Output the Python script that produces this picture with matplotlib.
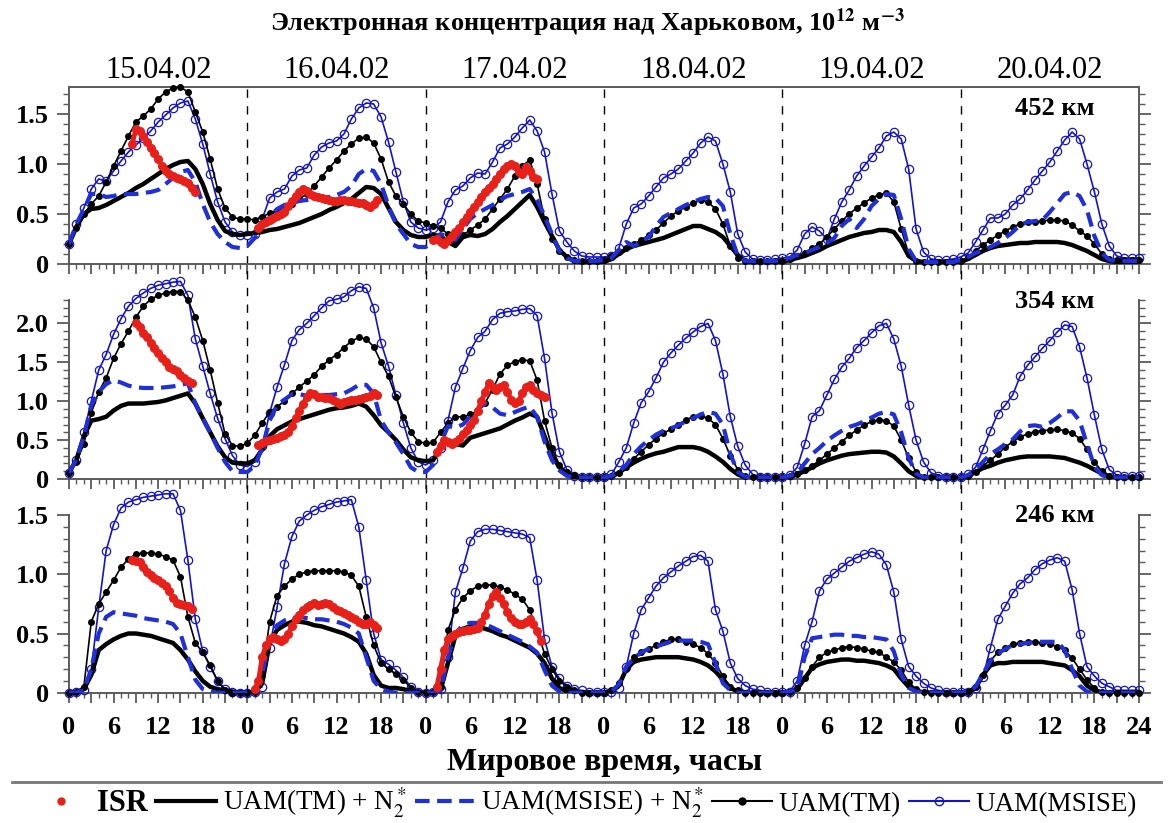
import numpy as np
import matplotlib.pyplot as plt
from matplotlib.lines import Line2D
from matplotlib.ticker import FixedLocator, FuncFormatter

plt.rcParams['font.family'] = ['Liberation Serif', 'DejaVu Serif']
plt.rcParams['mathtext.fontset'] = 'stix'

# ---- данные: часы от 0 (15.04) до 144 (конец 20.04), шаг 1 ч ----
hours = np.arange(145)
days = ['15.04.02', '16.04.02', '17.04.02', '18.04.02', '19.04.02', '20.04.02']

# 452 км
tm_452 = [0.20, 0.36, 0.50, 0.60, 0.68, 0.82, 0.98, 1.13, 1.28, 1.42, 1.48, 1.55, 1.65, 1.72, 1.76, 1.77, 1.72, 1.52, 1.32, 1.05, 0.75, 0.56, 0.47, 0.45,
          0.45, 0.44, 0.47, 0.51, 0.53, 0.57, 0.60, 0.65, 0.70, 0.78, 0.87, 0.96, 1.04, 1.13, 1.20, 1.26, 1.27, 1.21, 1.05, 0.82, 0.68, 0.60, 0.50, 0.43,
          0.41, 0.38, 0.36, 0.30, 0.24, 0.29, 0.34, 0.39, 0.45, 0.55, 0.65, 0.75, 0.88, 0.98, 1.04, 0.80, 0.45, 0.25, 0.13, 0.07, 0.04, 0.03, 0.03, 0.03,
          0.04, 0.08, 0.12, 0.16, 0.20, 0.24, 0.29, 0.34, 0.41, 0.48, 0.53, 0.57, 0.61, 0.64, 0.62, 0.55, 0.40, 0.18, 0.06, 0.03, 0.03, 0.03, 0.03, 0.03,
          0.03, 0.05, 0.08, 0.11, 0.16, 0.20, 0.27, 0.35, 0.43, 0.50, 0.56, 0.61, 0.66, 0.69, 0.71, 0.62, 0.35, 0.10, 0.03, 0.02, 0.02, 0.02, 0.02, 0.02,
          0.03, 0.07, 0.13, 0.19, 0.24, 0.29, 0.33, 0.37, 0.40, 0.42, 0.42, 0.43, 0.44, 0.44, 0.43, 0.39, 0.33, 0.28, 0.20, 0.10, 0.05, 0.04, 0.04, 0.04,
          0.04]
msise_452 = [0.20, 0.40, 0.56, 0.75, 0.85, 0.83, 0.93, 1.03, 1.12, 1.19, 1.26, 1.33, 1.42, 1.49, 1.56, 1.61, 1.63, 1.45, 1.20, 0.90, 0.62, 0.42, 0.32, 0.29,
             0.29, 0.30, 0.45, 0.66, 0.72, 0.75, 0.88, 0.94, 0.96, 1.09, 1.17, 1.21, 1.23, 1.30, 1.45, 1.56, 1.61, 1.60, 1.47, 1.22, 0.92, 0.62, 0.42, 0.36,
             0.34, 0.36, 0.42, 0.62, 0.74, 0.78, 0.86, 0.91, 0.90, 1.02, 1.16, 1.20, 1.27, 1.36, 1.44, 1.33, 1.12, 0.70, 0.33, 0.22, 0.13, 0.08, 0.07, 0.07,
             0.07, 0.08, 0.16, 0.40, 0.56, 0.60, 0.68, 0.77, 0.86, 0.90, 0.95, 1.03, 1.11, 1.21, 1.27, 1.23, 1.00, 0.72, 0.30, 0.12, 0.05, 0.04, 0.04, 0.05,
             0.06, 0.07, 0.14, 0.30, 0.37, 0.33, 0.25, 0.45, 0.62, 0.74, 0.88, 0.98, 1.07, 1.16, 1.28, 1.32, 1.25, 0.95, 0.35, 0.12, 0.05, 0.04, 0.04, 0.05,
             0.07, 0.11, 0.22, 0.34, 0.46, 0.46, 0.50, 0.59, 0.65, 0.74, 0.84, 0.93, 1.02, 1.13, 1.24, 1.32, 1.25, 1.00, 0.72, 0.40, 0.18, 0.08, 0.06, 0.06,
             0.06]
tmn2_452 = [0.20, 0.37, 0.50, 0.55, 0.56, 0.59, 0.63, 0.67, 0.71, 0.76, 0.80, 0.85, 0.90, 0.95, 0.99, 1.02, 1.03, 0.95, 0.80, 0.60, 0.44, 0.33, 0.30, 0.29,
            0.30, 0.31, 0.32, 0.34, 0.35, 0.37, 0.39, 0.41, 0.44, 0.47, 0.50, 0.54, 0.57, 0.61, 0.65, 0.71, 0.77, 0.76, 0.70, 0.56, 0.42, 0.34, 0.29, 0.27,
            0.27, 0.29, 0.28, 0.22, 0.18, 0.27, 0.29, 0.28, 0.30, 0.35, 0.42, 0.48, 0.55, 0.62, 0.69, 0.57, 0.42, 0.28, 0.14, 0.07, 0.03, 0.02, 0.02, 0.02,
            0.02, 0.05, 0.10, 0.15, 0.18, 0.20, 0.22, 0.24, 0.26, 0.29, 0.32, 0.35, 0.38, 0.38, 0.35, 0.32, 0.27, 0.18, 0.09, 0.03, 0.02, 0.02, 0.02, 0.02,
            0.02, 0.04, 0.06, 0.08, 0.11, 0.14, 0.18, 0.21, 0.24, 0.27, 0.29, 0.31, 0.32, 0.34, 0.34, 0.32, 0.22, 0.08, 0.03, 0.02, 0.02, 0.02, 0.02, 0.02,
            0.02, 0.05, 0.09, 0.13, 0.16, 0.18, 0.19, 0.20, 0.21, 0.21, 0.22, 0.22, 0.22, 0.22, 0.21, 0.19, 0.16, 0.13, 0.09, 0.05, 0.03, 0.02, 0.02, 0.02,
            0.02]
msisen2_452 = [0.20, 0.40, 0.55, 0.70, 0.70, 0.67, 0.68, 0.70, 0.70, 0.70, 0.71, 0.72, 0.74, 0.80, 0.86, 0.92, 0.94, 0.82, 0.60, 0.42, 0.30, 0.22, 0.17, 0.16,
               0.18, 0.26, 0.36, 0.47, 0.55, 0.59, 0.61, 0.63, 0.64, 0.65, 0.66, 0.67, 0.69, 0.72, 0.78, 0.90, 0.95, 0.93, 0.80, 0.58, 0.40, 0.30, 0.20, 0.17,
               0.17, 0.22, 0.30, 0.27, 0.24, 0.35, 0.45, 0.51, 0.55, 0.59, 0.64, 0.68, 0.70, 0.72, 0.75, 0.64, 0.48, 0.30, 0.13, 0.06, 0.03, 0.03, 0.03, 0.03,
               0.04, 0.06, 0.14, 0.22, 0.18, 0.22, 0.27, 0.38, 0.47, 0.51, 0.55, 0.59, 0.62, 0.65, 0.67, 0.66, 0.58, 0.30, 0.08, 0.03, 0.03, 0.03, 0.03, 0.03,
               0.04, 0.06, 0.09, 0.11, 0.14, 0.17, 0.21, 0.26, 0.38, 0.45, 0.36, 0.45, 0.58, 0.65, 0.70, 0.69, 0.45, 0.15, 0.03, 0.02, 0.02, 0.02, 0.02, 0.02,
               0.04, 0.07, 0.11, 0.14, 0.17, 0.21, 0.26, 0.32, 0.39, 0.42, 0.43, 0.44, 0.52, 0.61, 0.70, 0.72, 0.68, 0.54, 0.28, 0.11, 0.04, 0.03, 0.03, 0.03,
               0.03]
# ISR: (час начала, значения через 0.5 ч)
isr_452 = [(8.5, [1.20, 1.35, 1.33, 1.28, 1.22, 1.16, 1.11, 1.05, 0.98, 0.93, 0.90, 0.88, 0.86, 0.85, 0.83, 0.81, 0.76, 0.72]),
           (25.5, [0.36, 0.40, 0.42, 0.44, 0.46, 0.48, 0.50, 0.52, 0.58, 0.63, 0.68, 0.72, 0.75, 0.73, 0.70, 0.68, 0.67,
                   0.66, 0.65, 0.64, 0.63, 0.63, 0.64, 0.64, 0.63, 0.63, 0.62, 0.61, 0.61, 0.59, 0.57, 0.60, 0.64]),
           (49.0, [0.24, 0.25, 0.22, 0.20, 0.24, 0.28, 0.32, 0.36, 0.42, 0.47, 0.52, 0.57, 0.62, 0.67, 0.72, 0.76, 0.80,
                   0.85, 0.90, 0.95, 0.98, 1.00, 0.98, 0.92, 0.90, 0.97, 0.93, 0.87, 0.85])]

# 354 км
tm_354 = [0.08, 0.22, 0.45, 0.85, 1.12, 1.30, 1.55, 1.74, 1.90, 2.08, 2.22, 2.31, 2.36, 2.39, 2.41, 2.41, 2.30, 2.08, 1.78, 1.40, 0.98, 0.58, 0.43, 0.42,
          0.46, 0.56, 0.72, 0.86, 0.93, 1.00, 1.10, 1.18, 1.26, 1.34, 1.45, 1.53, 1.60, 1.69, 1.77, 1.82, 1.80, 1.70, 1.50, 1.32, 1.05, 0.80, 0.60, 0.48,
          0.46, 0.47, 0.60, 0.72, 0.80, 0.80, 0.83, 0.88, 0.98, 1.15, 1.35, 1.46, 1.51, 1.53, 1.52, 1.27, 0.75, 0.40, 0.18, 0.09, 0.05, 0.03, 0.02, 0.02,
          0.02, 0.04, 0.08, 0.16, 0.26, 0.35, 0.44, 0.52, 0.59, 0.64, 0.70, 0.76, 0.80, 0.81, 0.78, 0.70, 0.52, 0.30, 0.12, 0.04, 0.02, 0.02, 0.02, 0.02,
          0.02, 0.04, 0.07, 0.11, 0.17, 0.24, 0.32, 0.40, 0.48, 0.56, 0.63, 0.69, 0.74, 0.76, 0.75, 0.68, 0.50, 0.27, 0.09, 0.03, 0.02, 0.02, 0.02, 0.02,
          0.02, 0.04, 0.09, 0.17, 0.24, 0.32, 0.41, 0.48, 0.54, 0.58, 0.61, 0.62, 0.63, 0.64, 0.62, 0.59, 0.52, 0.38, 0.22, 0.10, 0.04, 0.02, 0.02, 0.02,
          0.02]
msise_354 = [0.08, 0.25, 0.60, 1.00, 1.40, 1.60, 1.86, 2.06, 2.22, 2.32, 2.39, 2.45, 2.49, 2.51, 2.53, 2.54, 2.36, 1.80, 1.45, 1.10, 0.78, 0.52, 0.30, 0.18,
             0.16, 0.22, 0.42, 0.85, 1.18, 1.47, 1.78, 1.92, 2.00, 2.10, 2.20, 2.29, 2.31, 2.34, 2.42, 2.47, 2.45, 2.20, 1.75, 1.45, 1.08, 0.72, 0.40, 0.22,
             0.18, 0.24, 0.40, 0.75, 1.18, 1.42, 1.65, 1.82, 1.90, 2.05, 2.13, 2.15, 2.16, 2.18, 2.19, 2.10, 1.55, 0.85, 0.35, 0.12, 0.04, 0.02, 0.02, 0.03,
             0.03, 0.06, 0.22, 0.40, 0.72, 0.98, 1.12, 1.30, 1.50, 1.62, 1.72, 1.81, 1.89, 1.96, 2.00, 1.78, 1.35, 0.80, 0.42, 0.18, 0.06, 0.03, 0.03, 0.03,
             0.03, 0.05, 0.15, 0.45, 0.80, 0.88, 1.08, 1.28, 1.44, 1.55, 1.69, 1.78, 1.88, 1.97, 2.00, 1.80, 1.45, 0.95, 0.50, 0.22, 0.08, 0.04, 0.03, 0.03,
             0.03, 0.06, 0.15, 0.38, 0.62, 0.84, 0.95, 1.08, 1.32, 1.46, 1.57, 1.68, 1.78, 1.89, 1.98, 1.96, 1.70, 1.30, 0.82, 0.38, 0.12, 0.05, 0.04, 0.04,
             0.04]
tmn2_354 = [0.08, 0.25, 0.55, 0.75, 0.77, 0.80, 0.88, 0.94, 0.97, 0.97, 0.97, 0.98, 0.99, 1.01, 1.04, 1.07, 1.10, 0.97, 0.78, 0.60, 0.42, 0.28, 0.21, 0.20,
            0.20, 0.24, 0.38, 0.55, 0.64, 0.69, 0.74, 0.77, 0.80, 0.83, 0.86, 0.89, 0.91, 0.92, 0.94, 0.97, 0.93, 0.82, 0.69, 0.60, 0.50, 0.38, 0.28, 0.24,
            0.23, 0.24, 0.40, 0.50, 0.45, 0.43, 0.53, 0.56, 0.59, 0.62, 0.65, 0.70, 0.75, 0.79, 0.84, 0.80, 0.55, 0.30, 0.15, 0.06, 0.02, 0.01, 0.01, 0.01,
            0.01, 0.03, 0.08, 0.15, 0.21, 0.26, 0.30, 0.33, 0.35, 0.38, 0.41, 0.41, 0.41, 0.39, 0.35, 0.29, 0.22, 0.13, 0.06, 0.02, 0.01, 0.01, 0.01, 0.01,
            0.01, 0.03, 0.06, 0.10, 0.15, 0.20, 0.24, 0.27, 0.30, 0.32, 0.33, 0.34, 0.35, 0.35, 0.34, 0.29, 0.20, 0.10, 0.04, 0.01, 0.01, 0.01, 0.01, 0.01,
            0.01, 0.04, 0.09, 0.14, 0.17, 0.21, 0.24, 0.26, 0.28, 0.29, 0.29, 0.29, 0.29, 0.28, 0.27, 0.24, 0.21, 0.17, 0.12, 0.07, 0.03, 0.01, 0.01, 0.01,
            0.01]
msisen2_354 = [0.08, 0.25, 0.55, 0.95, 1.12, 1.22, 1.27, 1.24, 1.20, 1.18, 1.17, 1.17, 1.17, 1.18, 1.19, 1.21, 1.23, 0.97, 0.78, 0.60, 0.40, 0.22, 0.10, 0.09,
               0.09, 0.17, 0.40, 0.75, 0.95, 1.02, 1.09, 1.09, 1.07, 1.07, 1.08, 1.08, 1.09, 1.10, 1.15, 1.21, 1.21, 1.10, 0.75, 0.60, 0.47, 0.32, 0.15, 0.09,
               0.09, 0.18, 0.45, 0.68, 0.66, 0.70, 0.80, 0.90, 0.97, 0.92, 0.84, 0.82, 0.86, 0.90, 0.93, 0.80, 0.48, 0.24, 0.11, 0.04, 0.02, 0.02, 0.02, 0.02,
               0.02, 0.04, 0.09, 0.18, 0.32, 0.42, 0.50, 0.57, 0.62, 0.65, 0.69, 0.74, 0.78, 0.83, 0.86, 0.84, 0.70, 0.32, 0.09, 0.03, 0.02, 0.02, 0.02, 0.02,
               0.02, 0.04, 0.08, 0.20, 0.32, 0.40, 0.49, 0.56, 0.62, 0.67, 0.70, 0.74, 0.79, 0.84, 0.86, 0.83, 0.60, 0.27, 0.07, 0.02, 0.02, 0.02, 0.02, 0.02,
               0.02, 0.05, 0.12, 0.22, 0.32, 0.38, 0.45, 0.51, 0.61, 0.68, 0.69, 0.67, 0.72, 0.79, 0.87, 0.87, 0.75, 0.45, 0.16, 0.05, 0.02, 0.02, 0.02, 0.02,
               0.02]
isr_354 = [(9.0, [2.00, 1.95, 1.88, 1.83, 1.75, 1.68, 1.62, 1.56, 1.50, 1.44, 1.41, 1.39, 1.34, 1.30, 1.26, 1.23]),
           (25.5, [0.44, 0.46, 0.49, 0.50, 0.52, 0.53, 0.55, 0.57, 0.60, 0.68, 0.78, 0.88, 0.97, 1.05, 1.10, 1.09, 1.06,
                   1.05, 1.04, 1.04, 1.02, 0.99, 0.97, 0.99, 1.00, 1.01, 1.02, 1.03, 1.04, 1.05, 1.07, 1.10, 1.08]),
           (49.5, [0.35, 0.42, 0.50, 0.47, 0.45, 0.47, 0.52, 0.58, 0.63, 0.70, 0.76, 0.88, 1.00, 1.12, 1.23, 1.18, 1.14,
                   1.18, 1.21, 1.12, 1.02, 0.98, 1.00, 1.10, 1.18, 1.21, 1.14, 1.10, 1.08, 1.06])]

# 246 км
tm_246 = [0.00, 0.01, 0.05, 0.60, 0.75, 0.85, 0.95, 1.06, 1.13, 1.17, 1.18, 1.18, 1.17, 1.15, 1.12, 0.98, 0.64, 0.42, 0.34, 0.23, 0.10, 0.02, 0.00, 0.00,
          0.00, 0.01, 0.15, 0.60, 0.82, 0.90, 0.96, 1.00, 1.02, 1.03, 1.03, 1.03, 1.03, 1.02, 0.99, 0.90, 0.64, 0.40, 0.25, 0.20, 0.16, 0.11, 0.04, 0.01,
          0.00, 0.01, 0.05, 0.53, 0.70, 0.80, 0.86, 0.90, 0.91, 0.91, 0.89, 0.87, 0.83, 0.79, 0.70, 0.52, 0.33, 0.20, 0.10, 0.05, 0.02, 0.00, 0.00, 0.00,
          0.00, 0.02, 0.08, 0.20, 0.30, 0.34, 0.37, 0.40, 0.43, 0.45, 0.45, 0.43, 0.41, 0.38, 0.33, 0.25, 0.14, 0.05, 0.02, 0.00, 0.00, 0.00, 0.00, 0.00,
          0.00, 0.01, 0.04, 0.12, 0.22, 0.30, 0.34, 0.36, 0.38, 0.39, 0.38, 0.37, 0.35, 0.34, 0.30, 0.26, 0.19, 0.09, 0.03, 0.01, 0.00, 0.00, 0.00, 0.00,
          0.00, 0.01, 0.05, 0.15, 0.27, 0.34, 0.38, 0.41, 0.42, 0.43, 0.43, 0.42, 0.41, 0.39, 0.36, 0.29, 0.20, 0.11, 0.04, 0.01, 0.00, 0.00, 0.00, 0.00,
          0.00]
msise_246 = [0.00, 0.01, 0.02, 0.20, 0.72, 1.20, 1.42, 1.56, 1.61, 1.63, 1.65, 1.66, 1.67, 1.68, 1.68, 1.54, 1.12, 0.62, 0.35, 0.22, 0.10, 0.03, 0.01, 0.00,
             0.00, 0.01, 0.05, 0.38, 0.72, 1.09, 1.32, 1.45, 1.50, 1.54, 1.57, 1.59, 1.61, 1.62, 1.63, 1.40, 0.95, 0.50, 0.28, 0.24, 0.19, 0.13, 0.05, 0.01,
             0.00, 0.01, 0.03, 0.30, 0.85, 1.05, 1.28, 1.36, 1.38, 1.38, 1.37, 1.36, 1.35, 1.34, 1.31, 0.95, 0.45, 0.22, 0.12, 0.06, 0.03, 0.02, 0.01, 0.01,
             0.01, 0.01, 0.04, 0.22, 0.50, 0.70, 0.80, 0.90, 0.97, 1.02, 1.07, 1.11, 1.15, 1.16, 1.11, 0.70, 0.52, 0.25, 0.12, 0.06, 0.03, 0.02, 0.01, 0.01,
             0.01, 0.01, 0.10, 0.40, 0.60, 0.86, 0.96, 1.01, 1.06, 1.11, 1.14, 1.17, 1.19, 1.17, 1.08, 0.85, 0.45, 0.22, 0.14, 0.08, 0.04, 0.02, 0.01, 0.01,
             0.01, 0.01, 0.04, 0.13, 0.38, 0.62, 0.73, 0.84, 0.92, 0.97, 1.04, 1.09, 1.12, 1.14, 1.11, 0.87, 0.50, 0.22, 0.14, 0.08, 0.05, 0.02, 0.02, 0.02,
             0.02]
tmn2_246 = [0.00, 0.00, 0.03, 0.15, 0.36, 0.41, 0.45, 0.48, 0.50, 0.50, 0.49, 0.48, 0.46, 0.44, 0.42, 0.36, 0.28, 0.18, 0.10, 0.05, 0.03, 0.02, 0.01, 0.00,
            0.00, 0.01, 0.08, 0.42, 0.53, 0.57, 0.60, 0.60, 0.59, 0.57, 0.56, 0.54, 0.52, 0.50, 0.47, 0.43, 0.33, 0.15, 0.06, 0.04, 0.04, 0.03, 0.01, 0.00,
            0.00, 0.00, 0.02, 0.25, 0.48, 0.54, 0.56, 0.56, 0.54, 0.52, 0.49, 0.47, 0.44, 0.41, 0.38, 0.33, 0.25, 0.12, 0.04, 0.01, 0.00, 0.00, 0.00, 0.00,
            0.00, 0.01, 0.06, 0.20, 0.26, 0.28, 0.29, 0.30, 0.30, 0.30, 0.30, 0.29, 0.28, 0.26, 0.23, 0.18, 0.11, 0.04, 0.01, 0.00, 0.00, 0.00, 0.00, 0.00,
            0.00, 0.01, 0.03, 0.12, 0.21, 0.24, 0.26, 0.27, 0.28, 0.28, 0.27, 0.27, 0.26, 0.25, 0.23, 0.20, 0.12, 0.05, 0.02, 0.00, 0.00, 0.00, 0.00, 0.00,
            0.00, 0.01, 0.04, 0.15, 0.23, 0.25, 0.25, 0.26, 0.26, 0.26, 0.26, 0.26, 0.25, 0.24, 0.23, 0.19, 0.14, 0.06, 0.02, 0.00, 0.00, 0.00, 0.00, 0.00,
            0.00]
msisen2_246 = [0.00, 0.00, 0.02, 0.20, 0.50, 0.64, 0.68, 0.67, 0.66, 0.65, 0.63, 0.62, 0.61, 0.60, 0.58, 0.50, 0.30, 0.11, 0.03, 0.01, 0.00, 0.00, 0.00, 0.00,
               0.00, 0.01, 0.15, 0.45, 0.57, 0.61, 0.63, 0.64, 0.63, 0.62, 0.62, 0.61, 0.60, 0.58, 0.55, 0.50, 0.30, 0.10, 0.03, 0.01, 0.00, 0.00, 0.00, 0.00,
               0.00, 0.00, 0.02, 0.30, 0.50, 0.57, 0.59, 0.59, 0.58, 0.55, 0.52, 0.49, 0.46, 0.43, 0.39, 0.34, 0.19, 0.06, 0.01, 0.00, 0.00, 0.00, 0.00, 0.00,
               0.00, 0.01, 0.07, 0.22, 0.29, 0.34, 0.37, 0.39, 0.41, 0.43, 0.44, 0.44, 0.44, 0.43, 0.41, 0.25, 0.08, 0.02, 0.00, 0.00, 0.00, 0.00, 0.00, 0.00,
               0.00, 0.01, 0.03, 0.30, 0.46, 0.47, 0.48, 0.49, 0.49, 0.48, 0.48, 0.47, 0.47, 0.46, 0.45, 0.35, 0.15, 0.04, 0.01, 0.00, 0.00, 0.00, 0.00, 0.00,
               0.00, 0.01, 0.05, 0.16, 0.27, 0.33, 0.37, 0.40, 0.41, 0.42, 0.43, 0.43, 0.43, 0.43, 0.36, 0.20, 0.06, 0.01, 0.00, 0.00, 0.00, 0.00, 0.00, 0.00,
               0.00]
isr_246 = [(8.5, [1.12, 1.11, 1.10, 1.06, 1.02, 0.99, 0.97, 0.95, 0.93, 0.90, 0.86, 0.80, 0.76, 0.75, 0.74, 0.73, 0.71]),
           (25.0, [0.03, 0.10, 0.30, 0.40, 0.45, 0.47, 0.45, 0.44, 0.45, 0.50, 0.56, 0.62, 0.66, 0.70, 0.72, 0.74, 0.76,
                   0.74, 0.75, 0.76, 0.75, 0.72, 0.70, 0.69, 0.67, 0.66, 0.64, 0.62, 0.60, 0.58, 0.58, 0.60, 0.57, 0.55]),
           (49.5, [0.05, 0.20, 0.36, 0.45, 0.48, 0.50, 0.51, 0.52, 0.53, 0.53, 0.54, 0.55, 0.60, 0.66, 0.75, 0.82, 0.85,
                   0.80, 0.75, 0.68, 0.63, 0.60, 0.58, 0.58, 0.60, 0.62, 0.58, 0.52, 0.44])]

# ---- оформление ----
W, H = 1168, 823
RED = '#e8201a'
BLUE = '#1414c8'
BLUE_D = '#1f30d8'
GRAY = '#5a5a5a'

fig = plt.figure(figsize=(W / 100, H / 100), dpi=100)

# (нулевая линия px, верх осей px, px на единицу, верх шкалы)
layout = [(264, 87, 100.0, 1.77),
          (479, 266, 77.8, 2.3),
          (692.7, 481, 118.4, 1.5)]
panels = [(tm_452, msise_452, tmn2_452, msisen2_452, isr_452, '452 км', 0.88),
          (tm_354, msise_354, tmn2_354, msisen2_354, isr_354, '354 км', 0.832),
          (tm_246, msise_246, tmn2_246, msisen2_246, isr_246, '246 км', 0.839)]


def ylab(v, pos):
    return '0' if abs(v) < 1e-9 else '%.1f' % v


def xlab(v, pos):
    h = int(round(v))
    if h % 6:
        return ''
    return '24' if h == 144 else str(h % 24)


axes = []
for i, ((y0, top, unit, ytop), (tm, ms, tmn2, msn2, isr, hlab, hy)) in enumerate(zip(layout, panels)):
    ax = fig.add_axes([69 / W, 1 - y0 / H, (1139 - 69) / W, (y0 - top) / H])
    ax.patch.set_visible(False)
    ax.set_xlim(0, 144)
    ax.set_ylim(0, (y0 - top) / unit)

    for d in range(1, 6):
        ax.axvline(24 * d, color='k', lw=1.0, dashes=(6, 6), zorder=1)

    ax.plot(hours, ms, color=BLUE, lw=1.2, marker='o', ms=6, mfc='none', mec=BLUE, mew=0.9, zorder=3, clip_on=False)
    ax.plot(hours, tm, color='k', lw=1.2, marker='o', ms=4, zorder=4, clip_on=False)
    ax.plot(hours, tmn2, color='k', lw=3.2, zorder=5)
    ax.plot(hours, msn2, color=BLUE_D, lw=3, dashes=(3.5, 1.8), zorder=6)
    for start, vals in isr:
        t = start + 0.5 * np.arange(len(vals))
        ax.plot(t, vals, color=RED, lw=3.5, marker='o', ms=5.5, zorder=7)

    ax.text(138, hy, hlab, transform=ax.get_xaxis_transform(), ha='right', va='center',
            fontsize=19, fontweight='bold')

    # оси
    for s in ['left', 'right', 'bottom', 'top']:
        ax.spines[s].set_color(GRAY)
        ax.spines[s].set_linewidth(1.4)
    ax.spines['left'].set_bounds(0, ytop)
    ax.spines['right'].set_bounds(0, ytop)
    ax.spines['top'].set_visible(i == 0)

    ax.xaxis.set_major_locator(FixedLocator(np.arange(0, 145, 3)))
    ax.xaxis.set_minor_locator(FixedLocator(np.arange(0, 145, 1)))
    ax.xaxis.set_major_formatter(FuncFormatter(xlab))
    ax.yaxis.set_major_locator(FixedLocator(np.arange(0, ytop + 0.001, 0.5)))
    ax.yaxis.set_minor_locator(FixedLocator(np.arange(0, ytop + 0.001, 0.1)))
    ax.yaxis.set_major_formatter(FuncFormatter(ylab))

    ax.tick_params(axis='both', which='both', direction='out', color=GRAY)
    ax.tick_params(axis='x', which='major', length=7, width=1.3, labelsize=19, pad=10,
                   labelbottom=(i == 2))
    ax.tick_params(axis='x', which='minor', length=3.6, width=1.0)
    ax.tick_params(axis='y', which='both', left=True, right=True, labelright=False)
    ax.tick_params(axis='y', which='major', length=8.5, width=1.3, labelsize=19, pad=6)
    ax.tick_params(axis='y', which='minor', length=4.3, width=1.0)
    for lab in ax.get_xticklabels() + ax.get_yticklabels():
        lab.set_fontweight('bold')
    axes.append(ax)

for d, lab in enumerate(days):
    axes[0].text(12 + 24 * d, 1.096, lab, transform=axes[0].get_xaxis_transform(),
                 ha='center', va='center', fontsize=22)

fig.text(0.503, 0.972, 'Электронная концентрация над Харьковом, 10$^{\\mathbf{12}}$ м$^{\\mathbf{-3}}$',
         ha='center', va='center', fontsize=19, fontweight='bold')
fig.text(0.518, 0.074, 'Мировое время, часы', ha='center', va='center', fontsize=23, fontweight='bold')

fig.add_artist(Line2D([0.01, 0.994], [0.0498, 0.0498], transform=fig.transFigure, color='#777777', lw=2))

handles = [Line2D([], [], color=RED, marker='o', ls='none', ms=5),
           Line2D([], [], color='k', lw=3),
           Line2D([], [], color=BLUE_D, lw=3, dashes=(3.5, 1.8)),
           Line2D([], [], color='k', lw=1.5, marker='o', ms=5),
           Line2D([], [], color=BLUE, lw=1.5, marker='o', ms=6, mfc='none', mec=BLUE)]
labels = ['ISR', 'UAM(TM) + N$_2^*$', 'UAM(MSISE) + N$_2^*$', 'UAM(TM)', 'UAM(MSISE)']
leg = fig.legend(handles, labels, loc='center', bbox_to_anchor=(0.5, 0.0243), ncol=5, frameon=False,
                 fontsize=19.5, handlelength=2.2, handletextpad=0.25, columnspacing=0.3,
                 borderaxespad=0, borderpad=0)
leg.get_texts()[0].set_fontweight('bold')
leg.get_texts()[0].set_fontsize(22)

fig.savefig('out.png', dpi=100)
